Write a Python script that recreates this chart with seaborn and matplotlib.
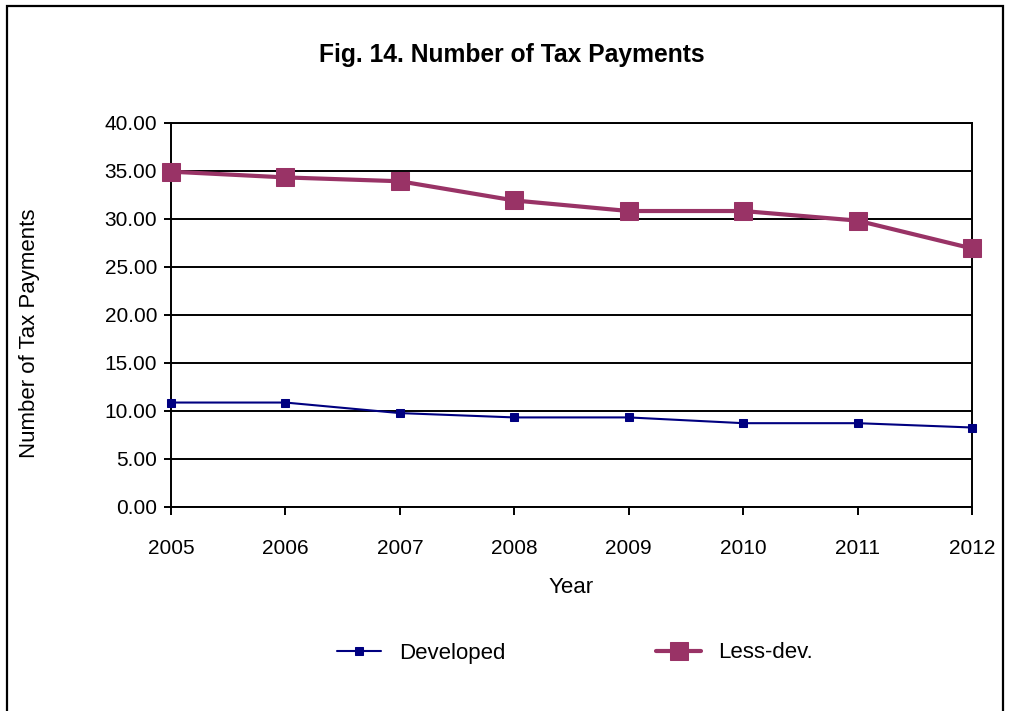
import matplotlib
matplotlib.use("Agg")
import matplotlib.pyplot as plt
from matplotlib.patches import Rectangle
import seaborn as sns
import pandas as pd

years = [2005, 2006, 2007, 2008, 2009, 2010, 2011, 2012]
developed = [10.85, 10.85, 9.75, 9.3, 9.3, 8.7, 8.7, 8.25]
less_dev = [34.9, 34.3, 33.9, 31.9, 30.8, 30.8, 29.8, 26.9]
y_ticks = [0, 5, 10, 15, 20, 25, 30, 35, 40]

sns.set_style("white")
plt.rcParams["font.family"] = ["Liberation Sans", "DejaVu Sans"]
for key in ["text.color", "axes.labelcolor", "xtick.color", "ytick.color"]:
    plt.rcParams[key] = "black"

df = pd.DataFrame({"Year": years, "Developed": developed, "Less-dev.": less_dev})

fig = plt.figure(figsize=(10.10, 7.11), dpi=100)
ax = fig.add_axes([171 / 1010, 1 - 506.7 / 711, (972 - 171) / 1010, (506.7 - 122.7) / 711])

sns.lineplot(data=df, x="Year", y="Developed", ax=ax, color="#000080", linewidth=1.5,
             marker="s", markersize=5.5, markeredgecolor="#000080", label="Developed",
             clip_on=False, zorder=5)
sns.lineplot(data=df, x="Year", y="Less-dev.", ax=ax, color="#993366", linewidth=3.0,
             marker="s", markersize=13.5, markeredgecolor="#993366", label="Less-dev.",
             clip_on=False, zorder=6)

ax.set_xlim(years[0], years[-1])
ax.set_ylim(0, 40)
ax.set_yticks(y_ticks)
ax.set_yticklabels([f"{v:.2f}" for v in y_ticks], fontsize=15)
ax.set_xticks(years)
ax.set_xticklabels([str(y) for y in years], fontsize=15)

ax.grid(axis="y", color="black", linewidth=1.4)
ax.set_axisbelow(True)
for side in ["left", "bottom", "right", "top"]:
    ax.spines[side].set_visible(True)
    ax.spines[side].set_color("black")
    ax.spines[side].set_linewidth(1.4)

ax.tick_params(axis="y", direction="out", length=5, width=1.4, pad=5, left=True)
ax.tick_params(axis="x", direction="out", length=6, width=1.4, pad=17, bottom=True)

ax.set_xlabel("Year", fontsize=16, labelpad=14)
ax.set_ylabel("Number of Tax Payments", fontsize=16)
ax.yaxis.set_label_coords(-(171 - 40) / (972 - 171), (506.7 - 333) / (506.7 - 122.7))

fig.text(512 / 1010, 1 - 55 / 711, "Fig. 14. Number of Tax Payments", ha="center", va="center",
         fontsize=17.7, fontweight="bold")

leg = ax.legend(loc="center", bbox_to_anchor=(575 / 1010, 1 - 653 / 711), bbox_transform=fig.transFigure,
                ncol=2, frameon=False, fontsize=16, handlelength=2.0, handletextpad=0.8,
                columnspacing=6.8)

# border around the whole chart
fig.patches.append(Rectangle((7 / 1010, -0.05), (1003 - 7) / 1010, 1 - 6 / 711 + 0.05,
                             transform=fig.transFigure, fill=False, edgecolor="black",
                             linewidth=1.6, zorder=10))

fig.savefig("out.png", dpi=100)
